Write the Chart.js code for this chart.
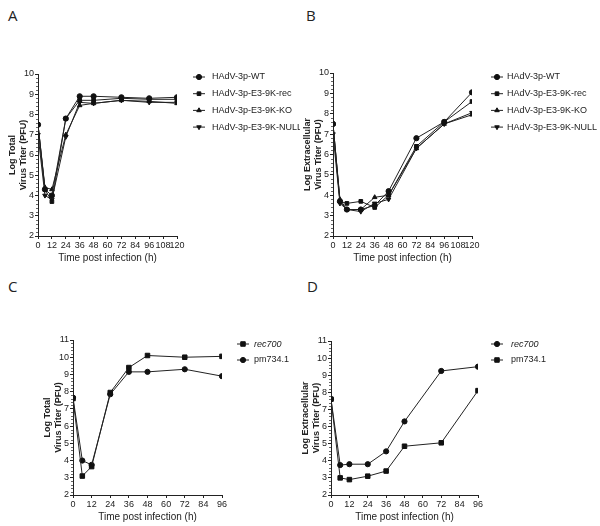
<!DOCTYPE html>
<html><head><meta charset="utf-8">
<script src="https://cdn.jsdelivr.net/npm/chart.js@4"></script>
<style>
html,body{margin:0;padding:0;background:#fff;}
#wrap{position:relative;width:600px;height:526px;overflow:hidden;font-family:"Liberation Sans",Arial,sans-serif;}
canvas{position:absolute;}
.lab{position:absolute;font-size:15px;color:#222;font-family:"Open Sans","Liberation Sans",sans-serif;}
</style></head>
<body><div id="wrap">
<div class="lab" style="left:8px;top:5px">A</div>
<div class="lab" style="left:306px;top:5px">B</div>
<div class="lab" style="left:8px;top:276px">C</div>
<div class="lab" style="left:307px;top:276px">D</div>
<canvas id="cA" width="300" height="268" style="left:0;top:0"></canvas>
<canvas id="cB" width="300" height="268" style="left:300px;top:0"></canvas>
<canvas id="cC" width="300" height="258" style="left:0;top:268px"></canvas>
<canvas id="cD" width="300" height="258" style="left:300px;top:268px"></canvas>
</div>
<script>
// ---- data ----
const timesAB = [0, 6, 12, 24, 36, 48, 72, 96, 120];
const timesCD = [0, 6, 12, 24, 36, 48, 72, 96];
const labelsAB = ["HAdV-3p-WT", "HAdV-3p-E3-9K-rec", "HAdV-3p-E3-9K-KO", "HAdV-3p-E3-9K-NULL"];
const labelsCD_C = ["rec700", "pm734.1"];
const labelsCD_D = ["rec700", "pm734.1"];

// Panel A: Log total virus titer
const totalWT   = [7.5, 4.3, 4.0, 7.8, 8.9, 8.9, 8.85, 8.8, 8.85];
const totalRec  = [7.5, 4.3, 3.7, 7.8, 8.7, 8.7, 8.8, 8.75, 8.75];
const totalKO   = [7.5, 4.4, 4.3, 7.0, 8.45, 8.55, 8.7, 8.65, 8.55];
const totalNULL = [7.0, 4.0, 3.8, 6.9, 8.6, 8.55, 8.7, 8.6, 8.6];

// Panel B: Log extracellular virus titer
const extraWT   = [7.5, 3.7, 3.3, 3.3, 3.5, 4.2, 6.8, 7.6, 9.05];
const extraRec  = [7.5, 3.7, 3.6, 3.7, 3.4, 4.0, 6.4, 7.6, 8.6];
const extraKO   = [7.5, 3.8, 3.3, 3.3, 3.9, 4.0, 6.3, 7.5, 7.95];
const extraNULL = [7.0, 3.6, 3.3, 3.2, 3.6, 3.8, 6.3, 7.5, 8.05];

// Panel C: Log total virus titer
const cRec700 = [7.6, 3.1, 3.65, 7.95, 9.4, 10.1, 10.0, 10.05];
const cPm734  = [7.65, 4.0, 3.75, 7.85, 9.15, 9.15, 9.3, 8.9];

// Panel D: Log extracellular virus titer
const dRec700 = [7.6, 3.75, 3.8, 3.8, 4.55, 6.3, 9.25, 9.5];
const dPm734  = [7.6, 3.0, 2.9, 3.1, 3.4, 4.85, 5.05, 8.1];

// ---- helpers ----
const INK = '#111';
const FONT = '"Liberation Sans", Arial, sans-serif';
const NARROW = '"Liberation Sans Narrow", "Liberation Sans", Arial, sans-serif';
function pts(xs, ys){ return xs.map((x,i)=>({x:x, y:ys[i]})); }
function ds(label, xs, ys, style, rot, r){
  return {label, data: pts(xs, ys), borderColor:'#222', borderWidth:1,
    backgroundColor:INK, pointBackgroundColor:INK, pointBorderColor:INK,
    pointStyle:style, pointRotation:rot||0, pointRadius:r||2.6, pointHoverRadius:r||2.6, tension:0};
}

const sideLegend = {
  id:'sideLegend',
  afterDraw(chart){
    const o = chart.options.plugins.sideLegend;
    if(!o) return;
    const ctx = chart.ctx;
    chart.data.datasets.forEach((d,i)=>{
      const y = o.y + i*o.gap, x = o.x;
      ctx.save();
      ctx.strokeStyle = '#222'; ctx.lineWidth = 1;
      ctx.beginPath(); ctx.moveTo(x-6, y); ctx.lineTo(x+6, y); ctx.stroke();
      ctx.fillStyle = INK; ctx.strokeStyle = INK;
      Chart.helpers.drawPoint(ctx, {pointStyle:d.pointStyle, rotation:d.pointRotation||0, radius:d.pointRadius, borderWidth:1}, x, y);
      const it = (o.italic||[]).includes(i) ? 'italic ' : '';
      ctx.font = it + o.size + 'px ' + FONT;
      ctx.fillStyle = '#222'; ctx.textBaseline = 'middle'; ctx.textAlign = 'left';
      ctx.fillText(d.label, o.tx, y);
      ctx.restore();
    });
  }
};

const minorTicks = {
  id:'minorTicks',
  afterDraw(chart){
    const y = chart.scales.y, ctx = chart.ctx;
    const left = chart.chartArea.left;
    ctx.save(); ctx.strokeStyle = '#666'; ctx.lineWidth = 1;
    for(let v = y.min; v <= y.max + 1e-9; v += 0.2){
      if(Math.abs(v - Math.round(v)) < 1e-6) continue;
      const p = Math.round(y.getPixelForValue(v)) + 0.5;
      ctx.beginPath(); ctx.moveTo(left - 2, p); ctx.lineTo(left, p); ctx.stroke();
    }
    ctx.restore();
  }
};

function makeChart(id, cfg){
  const xt = cfg.xmax;
  return new Chart(document.getElementById(id), {
    type:'line',
    data:{datasets:cfg.datasets},
    options:{
      responsive:false, animation:false, events:[],
      layout:{padding:cfg.pad},
      plugins:{legend:{display:false}, tooltip:{enabled:false},
        sideLegend:cfg.legend},
      scales:{
        x:{type:'linear', min:0, max:xt,
          ticks:{stepSize:12, color:'#222', font:{family:NARROW, size:9}, padding:1, maxRotation:0, autoSkip:false},
          grid:{display:true, drawOnChartArea:false, drawTicks:true, tickLength:3, color:'#222'},
          border:{color:'#222', width:1},
          title:{display:true, text:'Time post infection (h)', color:'#222', font:{family:FONT, size:10}, padding:{top:1,bottom:0}},
          afterFit(s){ s.height = cfg.xh; }
        },
        y:{min:2, max:cfg.ymax,
          ticks:{stepSize:1, color:'#222', font:{family:NARROW, size:9}, padding:1},
          grid:{display:true, drawOnChartArea:false, drawTicks:true, tickLength:3, color:'#222'},
          border:{color:'#222', width:1},
          title:{display:true, text:cfg.ytitle, color:'#222', font:{family:FONT, size:9, weight:'bold'}, padding:{top:0,bottom:2}},
          afterFit(s){ s.width = cfg.yw; }
        }
      }
    },
    plugins:[sideLegend, minorTicks]
  });
}

makeChart('cA', {
  xmax:120, ymax:10, yw:31, xh:28, pad:{left:7, top:74, right:123, bottom:4},
  ytitle:['Log Total','Virus Titer (PFU)'],
  datasets:[
    ds(labelsAB[0], timesAB, totalWT, 'circle'),
    ds(labelsAB[1], timesAB, totalRec, 'rect'),
    ds(labelsAB[2], timesAB, totalKO, 'triangle'),
    ds(labelsAB[3], timesAB, totalNULL, 'triangle', 180)
  ],
  legend:{x:199, tx:212, y:77, gap:16.7, size:9}
});
makeChart('cB', {
  xmax:120, ymax:10, yw:31, xh:28, pad:{left:2, top:73, right:128, bottom:4},
  ytitle:['Log Extracellular','Virus Titer (PFU)'],
  datasets:[
    ds(labelsAB[0], timesAB, extraWT, 'circle'),
    ds(labelsAB[1], timesAB, extraRec, 'rect'),
    ds(labelsAB[2], timesAB, extraKO, 'triangle'),
    ds(labelsAB[3], timesAB, extraNULL, 'triangle', 180)
  ],
  legend:{x:197, tx:207, y:77, gap:16.7, size:9}
});
makeChart('cC', {
  xmax:96, ymax:11, yw:31, xh:28, pad:{left:42, top:72, right:78, bottom:3},
  ytitle:['Log Total','Virus Titer (PFU)'],
  datasets:[
    ds(labelsCD_C[0], timesCD, cRec700, 'rect', 0, 3.2),
    ds(labelsCD_C[1], timesCD, cPm734, 'circle')
  ],
  legend:{x:243, tx:254, y:76, gap:16, size:9, italic:[0]}
});
makeChart('cD', {
  xmax:96, ymax:11, yw:31, xh:28, pad:{left:0, top:73, right:122, bottom:3},
  ytitle:['Log Extracellular','Virus Titer (PFU)'],
  datasets:[
    ds(labelsCD_D[0], timesCD, dRec700, 'circle'),
    ds(labelsCD_D[1], timesCD, dPm734, 'rect', 0, 3.2)
  ],
  legend:{x:197, tx:211, y:76, gap:16, size:9, italic:[0]}
});
</script>
</body></html>
